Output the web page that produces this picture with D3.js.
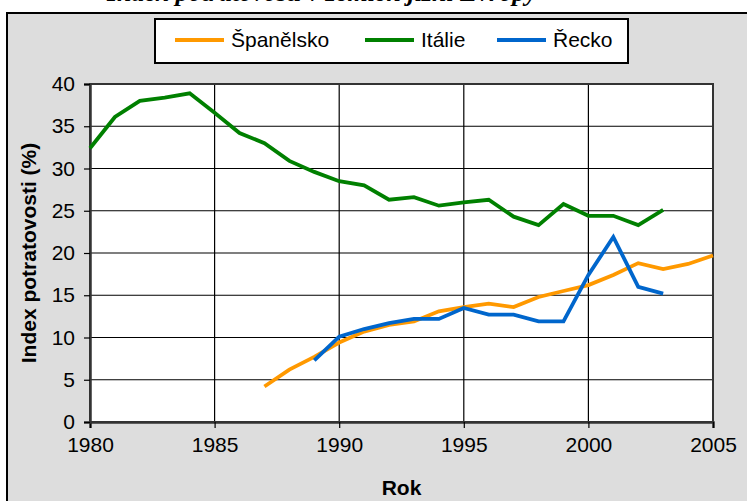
<!DOCTYPE html>
<html>
<head>
<meta charset="utf-8">
<script src="https://cdn.jsdelivr.net/npm/d3@7"></script>
<style>
  body { margin: 0; background: #fff; }
  svg { display: block; }
</style>
</head>
<body>
<svg width="747" height="501"></svg>
<script>
/* Data */
var xTicks = [1980, 1985, 1990, 1995, 2000, 2005];
var yTicks = [0, 5, 10, 15, 20, 25, 30, 35, 40];

var spainYears = [1987, 1988, 1989, 1990, 1991, 1992, 1993, 1994, 1995, 1996, 1997, 1998, 1999, 2000, 2001, 2002, 2003, 2004, 2005];
var spainValues = [4.2, 6.2, 7.7, 9.4, 10.7, 11.5, 11.9, 13.1, 13.6, 14.0, 13.6, 14.8, 15.5, 16.2, 17.4, 18.8, 18.1, 18.7, 19.7];

var italyYears = [1980, 1981, 1982, 1983, 1984, 1985, 1986, 1987, 1988, 1989, 1990, 1991, 1992, 1993, 1994, 1995, 1996, 1997, 1998, 1999, 2000, 2001, 2002, 2003];
var italyValues = [32.4, 36.1, 38.0, 38.4, 38.9, 36.6, 34.2, 33.0, 30.9, 29.6, 28.5, 28.0, 26.3, 26.6, 25.6, 26.0, 26.3, 24.3, 23.3, 25.8, 24.4, 24.4, 23.3, 25.1];

var greeceYears = [1989, 1990, 1991, 1992, 1993, 1994, 1995, 1996, 1997, 1998, 1999, 2000, 2001, 2002, 2003];
var greeceValues = [7.3, 10.1, 11.0, 11.7, 12.2, 12.2, 13.5, 12.7, 12.7, 11.9, 11.9, 17.4, 21.9, 16.0, 15.2];

var seriesNames = ["Španělsko", "Itálie", "Řecko"];
var seriesColors = ["#ff9900", "#008000", "#0066cc"];

var svg = d3.select("svg");
var margin = {top: 84, right: 34, bottom: 79, left: 90};
var width = +svg.attr("width") - margin.left - margin.right;
var height = +svg.attr("height") - margin.top - margin.bottom;

/* Titel, bovenaan afgesneden zoals in het origineel */
svg.append("text")
    .attr("x", 107)
    .attr("y", 0.5)
    .attr("font-family", "Liberation Serif, serif")
    .attr("font-weight", "bold")
    .attr("font-style", "italic")
    .attr("font-size", 26)
    .text("Index potratovosti v zemích jižní Evropy");

/* Grijze achtergrond met rand */
svg.append("rect")
    .attr("x", 7)
    .attr("y", 13)
    .attr("width", 760)
    .attr("height", 510)
    .attr("fill", "#dddddd")
    .attr("stroke", "#000")
    .attr("stroke-width", 2);

var x = d3.scaleLinear().domain([1980, 2005]).range([0, width]);
var y = d3.scaleLinear().domain([0, 40]).range([height, 0]);

var group = svg.append("g").attr("transform", "translate(" + margin.left + "," + margin.top + ")");

group.append("rect")
    .attr("width", width)
    .attr("height", height)
    .attr("fill", "#fff");

/* Rasterlijnen */
group.append("g")
  .selectAll("line")
  .data(yTicks)
  .enter().append("line")
    .attr("x1", 0)
    .attr("x2", width)
    .attr("y1", function(d) { return y(d); })
    .attr("y2", function(d) { return y(d); })
    .attr("stroke", "#000")
    .attr("stroke-width", 1.2);

group.append("g")
  .selectAll("line")
  .data(xTicks)
  .enter().append("line")
    .attr("x1", function(d) { return x(d); })
    .attr("x2", function(d) { return x(d); })
    .attr("y1", 0)
    .attr("y2", height)
    .attr("stroke", "#000")
    .attr("stroke-width", 1.2);

group.append("rect")
    .attr("width", width)
    .attr("height", height)
    .attr("fill", "none")
    .attr("stroke", "#333")
    .attr("stroke-width", 2);

/* Assen */
var xAxis = group.append("g")
    .attr("transform", "translate(0," + height + ")")
    .call(d3.axisBottom(x).tickValues(xTicks).tickFormat(d3.format("d")).tickSize(6).tickPadding(9));

var yAxis = group.append("g")
    .call(d3.axisLeft(y).tickValues(yTicks).tickSize(6).tickPadding(9));

[xAxis, yAxis].forEach(function(a) {
  a.select(".domain").attr("stroke", "#333").attr("stroke-width", 2.5);
  a.selectAll(".tick line").attr("stroke", "#000").attr("stroke-width", 1.2);
  a.selectAll("text")
      .attr("font-family", "Liberation Sans, Arial, sans-serif")
      .attr("font-size", 21)
      .attr("fill", "#000");
});

/* Lijnen */
var line = d3.line()
    .x(function(d) { return x(d.year); })
    .y(function(d) { return y(d.value); });

var series = [
  {years: spainYears, values: spainValues},
  {years: italyYears, values: italyValues},
  {years: greeceYears, values: greeceValues}
];

group.append("g")
  .selectAll("path")
  .data(series)
  .enter().append("path")
    .attr("fill", "none")
    .attr("stroke", function(d, i) { return seriesColors[i]; })
    .attr("stroke-width", 3.8)
    .attr("d", function(s) {
      return line(s.years.map(function(yr, i) { return {year: yr, value: s.values[i]}; }));
    });

/* Astitels */
svg.append("text")
    .attr("x", margin.left + width / 2)
    .attr("y", 495)
    .attr("text-anchor", "middle")
    .attr("font-family", "Liberation Sans, Arial, sans-serif")
    .attr("font-weight", "bold")
    .attr("font-size", 21)
    .text("Rok");

svg.append("text")
    .attr("transform", "translate(36," + (margin.top + height / 2) + ") rotate(-90)")
    .attr("text-anchor", "middle")
    .attr("font-family", "Liberation Sans, Arial, sans-serif")
    .attr("font-weight", "bold")
    .attr("font-size", 21)
    .text("Index potratovosti (%)");

/* Legenda */
svg.append("rect")
    .attr("x", 155)
    .attr("y", 19)
    .attr("width", 473)
    .attr("height", 44)
    .attr("fill", "#fff")
    .attr("stroke", "#000")
    .attr("stroke-width", 2);

var legendX = [175, 365, 497];
var legend = svg.append("g")
  .selectAll("g")
  .data(seriesNames)
  .enter().append("g")
    .attr("transform", function(d, i) { return "translate(" + legendX[i] + ",40)"; });

legend.append("line")
    .attr("x1", 0)
    .attr("x2", 49)
    .attr("stroke", function(d, i) { return seriesColors[i]; })
    .attr("stroke-width", 3.8);

legend.append("text")
    .attr("x", 56)
    .attr("dy", "0.35em")
    .attr("font-family", "Liberation Sans, Arial, sans-serif")
    .attr("font-size", 21)
    .text(function(d) { return d; });
</script>
</body>
</html>
